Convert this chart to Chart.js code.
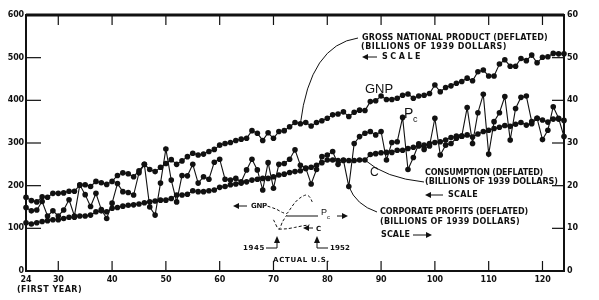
<!DOCTYPE html>
<html>
<head>
<meta charset="utf-8">
<script src="https://cdn.jsdelivr.net/npm/chart.js@4/dist/chart.umd.min.js"></script>
<style>
  html, body { margin: 0; padding: 0; background: #fff; }
  #wrap { width: 599px; height: 300px; position: relative; }
</style>
</head>
<body>
<div id="wrap"><canvas id="chart"></canvas></div>
<script>
// simulated years 24 .. 124, one value per year
const firstYear = 24;

// GNP, billions of 1939 dollars (left scale)
const gnp = [
  173, 165, 162, 174, 173, 182, 182, 183, 187, 187, 201, 202, 198, 210, 207, 203, 210, 224,
  230, 228, 221, 235, 250, 238, 233, 243, 252, 261, 250, 258, 268, 276, 272, 274, 280, 285,
  295, 299, 301, 306, 309, 311, 329, 323, 306, 324, 311, 327, 329, 338, 348, 345, 348,
  340, 348, 352, 358, 366, 368, 373, 362, 372, 377, 376, 397, 399, 410, 402, 402, 405,
  412, 415, 405, 410, 412, 416, 436, 420, 430, 434, 440, 444, 452, 446, 467, 471, 457, 457,
  485, 495, 480, 480, 498, 493, 506, 488, 501, 502, 510, 509, 509
];

// consumption, billions of 1939 dollars (left scale)
const consumption = [
  113, 110, 113, 116, 118, 120, 120, 123, 126, 126, 129, 129, 131, 139, 141, 139, 147, 149,
  152, 154, 155, 157, 160, 162, 164, 166, 166, 170, 178, 178, 180, 188, 186, 186, 188, 190,
  196, 198, 202, 204, 206, 209, 213, 215, 217, 217, 221, 225, 227, 231, 233, 235, 240,
  243, 248, 254, 260, 260, 259, 259, 259, 259, 260, 260, 273, 275, 277, 278, 278, 283,
  283, 287, 290, 293, 295, 299, 301, 303, 307, 313, 316, 316, 319, 314, 321, 327, 330, 334,
  337, 341, 339, 344, 348, 342, 345, 358, 354, 349, 356, 356, 353
];

// corporate profits, billions of 1939 dollars (right scale)
const profits = [
  14.9, 14.1, 14.3, 16.3, 12.9, 14.1, 12.9, 14.3, 16.7, 12.9, 20.2, 17.9, 15.1, 18.2, 14.4, 12.3, 15.9, 20.5,
  18.6, 18.4, 17.8, 23.0, 25.0, 15.0, 13.1, 20.6, 28.6, 21.3, 16.2, 22.4, 22.3, 25.0, 20.6, 22.1, 21.5, 25.5,
  26.2, 21.5, 21.3, 21.7, 20.9, 23.7, 26.2, 23.7, 19.0, 25.4, 19.4, 25.0, 25.2, 26.2, 28.4, 24.8, 24.1,
  20.4, 23.8, 26.8, 27.2, 28.0, 25.0, 26.0, 19.8, 29.9, 31.5, 32.3, 32.7, 31.9, 32.7, 26.0, 30.1, 30.3,
  36.0, 23.8, 26.6, 29.8, 28.5, 29.3, 35.8, 27.2, 29.5, 29.9, 31.1, 31.6, 38.3, 29.9, 37.1, 41.4, 27.4, 35.0,
  37.1, 40.9, 30.7, 38.1, 40.7, 41.0, 35.0, 35.8, 30.8, 33.0, 38.5, 35.8, 31.5
];

const xTicks = [30, 40, 50, 60, 70, 80, 90, 100, 110, 120];
const leftTicks = [0, 100, 200, 300, 400, 500, 600];
const rightTicks = [0, 10, 20, 30, 40, 50, 60];

// inset: actual U.S. 1945-1952, sketched on the simulation axes
const insetGnpYears = [68.9, 70.5, 71.7, 72.5, 73.0, 73.9, 74.8, 76.0, 76.7, 77.2];
const insetGnpValues = [152, 145, 137, 135, 143, 159, 170, 178, 174, 162];
const insetPcYears = [70.0, 71.0, 71.7, 72.5];
const insetPcValues = [120, 98, 116, 131];
const insetCYears = [71.0, 72.5, 73.9, 75.5, 76.7];
const insetCValues = [98, 99, 102, 106, 108];

const INK = '#111';

function toPoints(vals) {
  return vals.map((v, i) => ({ x: firstYear + i, y: v }));
}
function zipPoints(xs, ys) {
  return xs.map((x, i) => ({ x: x, y: ys[i] }));
}

function series(label, vals, axis) {
  return {
    label: label,
    data: toPoints(vals),
    yAxisID: axis,
    borderColor: INK,
    borderWidth: 1.1,
    pointRadius: 2.8,
    pointBackgroundColor: INK,
    pointBorderWidth: 0,
    tension: 0,
    clip: false
  };
}
function dashed(label, xs, ys) {
  return {
    label: label,
    data: zipPoints(xs, ys),
    yAxisID: 'y',
    borderColor: INK,
    borderWidth: 1,
    borderDash: [3, 2],
    pointRadius: 0,
    tension: 0.3
  };
}

// text squeezed or spread to a given width
function fitText(ctx, s, x, y, w, align) {
  ctx.letterSpacing = '0px';
  const natural = ctx.measureText(s).width;
  const sp = (w - natural) / Math.max(1, s.length);
  ctx.letterSpacing = sp.toFixed(2) + 'px';
  ctx.textAlign = 'left';
  let x0 = x;
  if (align === 'right') x0 = x - w;
  if (align === 'center') x0 = x - w / 2;
  ctx.fillText(s, x0, y);
  ctx.letterSpacing = '0px';
}

function hArrow(ctx, x1, x2, y) {
  // line from x1 to x2, head at x2
  const dir = x2 > x1 ? 1 : -1;
  ctx.beginPath(); ctx.moveTo(x1, y); ctx.lineTo(x2 - dir * 5, y); ctx.stroke();
  ctx.beginPath();
  ctx.moveTo(x2, y); ctx.lineTo(x2 - dir * 6, y - 3); ctx.lineTo(x2 - dir * 6, y + 3);
  ctx.closePath(); ctx.fill();
}
function upArrow(ctx, x, y1, y2) {
  ctx.beginPath(); ctx.moveTo(x, y1); ctx.lineTo(x, y2 + 5); ctx.stroke();
  ctx.beginPath();
  ctx.moveTo(x, y2); ctx.lineTo(x - 3, y2 + 7); ctx.lineTo(x + 3, y2 + 7);
  ctx.closePath(); ctx.fill();
}
function seg(ctx, x1, y1, x2, y2) {
  ctx.beginPath(); ctx.moveTo(x1, y1); ctx.lineTo(x2, y2); ctx.stroke();
}

const framePlugin = {
  id: 'frame',
  afterDraw(chart) {
    const ctx = chart.ctx, a = chart.chartArea;
    const xs = chart.scales.x, yl = chart.scales.y, yr = chart.scales.y1;
    ctx.save();
    ctx.strokeStyle = INK;
    ctx.fillStyle = INK;
    ctx.textBaseline = 'middle';

    // frame, heavier along the top
    ctx.lineWidth = 2;
    ctx.strokeRect(a.left, a.top, a.right - a.left, a.bottom - a.top);
    ctx.lineWidth = 3;
    seg(ctx, a.left, a.top, a.right, a.top);

    // inward ticks
    ctx.lineWidth = 1.2;
    xTicks.forEach(v => {
      const px = xs.getPixelForValue(v);
      seg(ctx, px, a.top, px, a.top + 10);
      seg(ctx, px, a.bottom, px, a.bottom - 10);
    });
    leftTicks.slice(1, -1).forEach(v => {
      const py = yl.getPixelForValue(v);
      seg(ctx, a.left, py, a.left + 15, py);
    });
    rightTicks.slice(1, -1).forEach(v => {
      const py = yr.getPixelForValue(v);
      seg(ctx, a.right, py, a.right - 12, py);
    });

    // tick labels
    ctx.font = 'bold 8px "DejaVu Sans"';
    leftTicks.forEach(v => {
      const s = String(v);
      fitText(ctx, s, 24, yl.getPixelForValue(v), s.length * 5.4, 'right');
    });
    rightTicks.forEach(v => {
      const s = String(v);
      fitText(ctx, s, 567, yr.getPixelForValue(v), s.length * 5.4, 'left');
    });
    const bottom = [firstYear].concat(xTicks);
    bottom.forEach(v => {
      const s = String(v);
      fitText(ctx, s, xs.getPixelForValue(v), a.bottom + 9, s.length * 5.4, 'center');
    });
    fitText(ctx, '(FIRST YEAR)', 17, a.bottom + 19, 65, 'left');

    // series labels
    ctx.font = '13px "Liberation Sans"';
    ctx.textAlign = 'left';
    ctx.fillText('GNP', 365, 89);
    ctx.font = '14px "Liberation Sans"';
    ctx.fillText('P', 404, 114);
    ctx.font = '9px "Liberation Sans"';
    ctx.fillText('c', 413, 120);
    ctx.font = '12px "Liberation Sans"';
    ctx.fillText('C', 370, 173);

    // leader lines from the data
    ctx.lineWidth = 1;
    const gx = xs.getPixelForValue(75), gy = yl.getPixelForValue(gnp[75 - firstYear]);
    ctx.beginPath(); ctx.moveTo(358, 38); ctx.quadraticCurveTo(310, 45, gx, gy); ctx.stroke();
    const cx = xs.getPixelForValue(87), cy = yl.getPixelForValue(consumption[87 - firstYear]);
    ctx.beginPath(); ctx.moveTo(cx, cy); ctx.quadraticCurveTo(385, 178, 424, 182); ctx.stroke();
    const px = xs.getPixelForValue(84), py = yr.getPixelForValue(profits[84 - firstYear]);
    ctx.beginPath(); ctx.moveTo(px, py); ctx.quadraticCurveTo(356, 205, 377, 212); ctx.stroke();

    // annotation blocks
    ctx.font = 'bold 8px "DejaVu Sans"';
    fitText(ctx, 'GROSS NATIONAL PRODUCT (DEFLATED)', 362, 38, 186, 'left');
    fitText(ctx, '(BILLIONS OF 1939 DOLLARS)', 361, 47, 146, 'left');
    hArrow(ctx, 377, 362, 57);
    fitText(ctx, 'SCALE', 382, 57, 41, 'left');

    fitText(ctx, 'CONSUMPTION (DEFLATED)', 425, 173, 118, 'left');
    fitText(ctx, '(BILLIONS OF 1939 DOLLARS)', 425, 182, 133, 'left');
    hArrow(ctx, 443, 425, 195);
    fitText(ctx, 'SCALE', 448, 195, 30, 'left');

    fitText(ctx, 'CORPORATE PROFITS (DEFLATED)', 380, 212, 148, 'left');
    fitText(ctx, '(BILLIONS OF 1939 DOLLARS)', 380, 222, 140, 'left');
    fitText(ctx, 'SCALE', 381, 235, 29, 'left');
    hArrow(ctx, 413, 432, 235);

    // inset labels
    ctx.font = 'bold 7px "DejaVu Sans"';
    hArrow(ctx, 247, 233, 206);
    fitText(ctx, 'GNP', 251, 206, 16, 'left');
    seg(ctx, 287, 216, 318, 216);
    ctx.font = '9px "Liberation Sans"';
    ctx.fillText('P', 321, 213);
    ctx.font = '6px "Liberation Sans"';
    ctx.fillText('c', 327, 217);
    hArrow(ctx, 337, 348, 216);
    hArrow(ctx, 313, 303, 228);
    ctx.font = 'bold 7px "DejaVu Sans"';
    fitText(ctx, 'C', 316, 229, 6, 'left');

    fitText(ctx, '1945', 265, 248, 22, 'right');
    seg(ctx, 266, 248, 277, 248);
    upArrow(ctx, 277, 248, 236);
    upArrow(ctx, 317, 248, 236);
    seg(ctx, 317, 248, 328, 248);
    fitText(ctx, '1952', 330, 248, 20, 'left');
    fitText(ctx, 'ACTUAL U.S.', 273, 260, 57, 'left');

    ctx.restore();
  }
};

new Chart(document.getElementById('chart'), {
  type: 'line',
  data: {
    datasets: [
      series('GNP', gnp, 'y'),
      series('C', consumption, 'y'),
      series('Pc', profits, 'y1'),
      dashed('GNP 1945-52', insetGnpYears, insetGnpValues),
      dashed('Pc 1945-52', insetPcYears, insetPcValues),
      dashed('C 1945-52', insetCYears, insetCValues)
    ]
  },
  options: {
    responsive: true,
    maintainAspectRatio: false,
    animation: false,
    layout: { padding: { left: 26, right: 35, top: 15, bottom: 29 } },
    plugins: { legend: { display: false }, tooltip: { enabled: false } },
    scales: {
      x: { type: 'linear', min: 24, max: 124, display: false },
      y: { min: 0, max: 600, display: false },
      y1: { min: 0, max: 60, display: false, position: 'right' }
    }
  },
  plugins: [framePlugin]
});
</script>
</body>
</html>
